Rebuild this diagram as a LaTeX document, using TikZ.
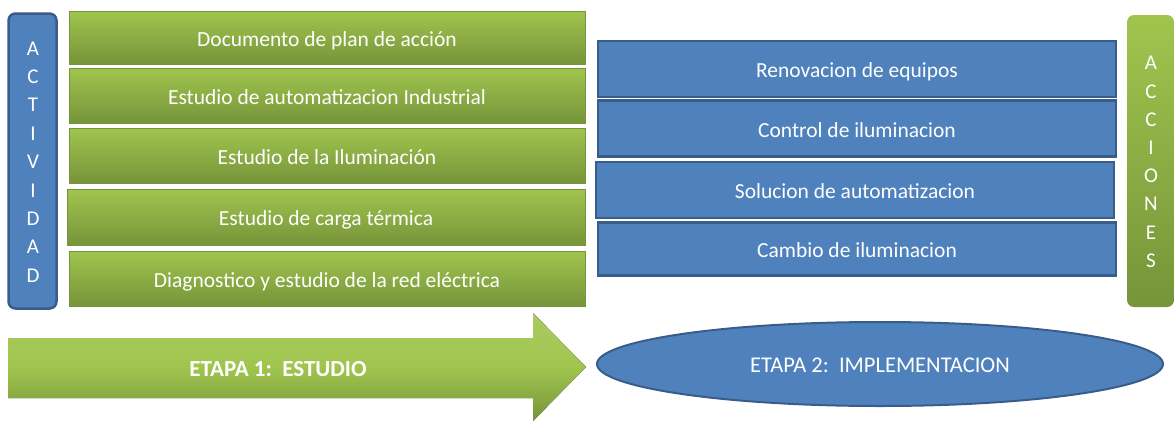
\documentclass[tikz,border=0pt]{standalone}
\usepackage{fontspec}
\setmainfont{Carlito}
\usetikzlibrary{shapes.geometric}
\definecolor{gtop}{HTML}{A0C54E}
\definecolor{gbot}{HTML}{76943A}
\definecolor{bfill}{HTML}{4F81BD}
\definecolor{bdraw}{HTML}{385D8A}
\tikzset{
  txt/.style={text=white,font=\fontsize{21.5}{24}\selectfont,text height=18pt,text depth=1pt},
  gbox/.style={txt,rectangle,top color=gtop,bottom color=gbot,draw=gbot,line width=0.8pt,minimum width=516pt,inner sep=0pt},
  bbox/.style={txt,rectangle,fill=bfill,draw=bdraw,line width=2.5pt,minimum width=518pt,inner sep=0pt},
  vbox/.style={rectangle,rounded corners=7pt,inner sep=0pt,minimum width=48pt},
  vtxt/.style={text=white,align=center,inner sep=0pt},
}
\begin{document}
\begin{tikzpicture}[x=1pt,y=-1pt]
\useasboundingbox (0,0) rectangle (1174,423);
% ACTIVIDAD
\node[vbox,fill=bfill,draw=bdraw,line width=2.5pt,minimum height=295pt] (act) at (32.5,161) {};
\node[vtxt,font=\fontsize{21}{28.4}\selectfont] (actt) at (33,162) {A\\C\\T\\I\\V\\I\\D\\A\\D};
% green boxes
\node[gbox,minimum height=53pt] (g1) at (327,37.5) {Documento de plan de acción};
\node[gbox,minimum height=55pt] (g2) at (327,95.5) {Estudio de automatizacion Industrial};
\node[gbox,minimum height=55pt] (g3) at (327,155.5) {Estudio de la Iluminación};
\node[gbox,minimum height=56pt,minimum width=518pt] (g4) at (326,217) {Estudio de carga térmica};
\node[gbox,minimum height=55pt] (g5) at (327,278.5) {Diagnostico y estudio de la red eléctrica};
% blue boxes
\node[bbox,minimum height=56pt] (b1) at (857,69) {Renovacion de equipos};
\node[bbox,minimum height=56pt] (b2) at (857,128.5) {Control de iluminacion};
\node[bbox,minimum height=56pt] (b3) at (855,190) {Solucion de automatizacion};
\node[bbox,minimum height=53pt] (b4) at (857,249) {Cambio de iluminacion};
% ACCIONES
\node[vbox,top color=gtop,bottom color=gbot,minimum height=292pt,minimum width=47pt] (acc) at (1150.5,161) {};
\node[vtxt,font=\fontsize{21}{28.2}\selectfont] (acct) at (1151,162) {A\\C\\C\\I\\O\\N\\E\\S};
% arrow
\fill[top color=gtop!90!white,bottom color=gbot,middle color=gtop]
  (8,338) -- (533,338) -- (533,313) -- (586,367) -- (533,421) -- (533,398) -- (8,398) -- cycle;
\node[text=white,font=\fontsize{23}{26}\selectfont\bfseries] (e1) at (278,369) {ETAPA 1:\ \ ESTUDIO};
% ellipse
\node[ellipse,fill=bfill,draw=bdraw,line width=2pt,minimum width=566pt,minimum height=84pt,inner sep=0pt,txt,font=\fontsize{22.5}{25}\selectfont] (e2) at (880,364) {ETAPA 2:\ \ IMPLEMENTACION};
\end{tikzpicture}
\end{document}
